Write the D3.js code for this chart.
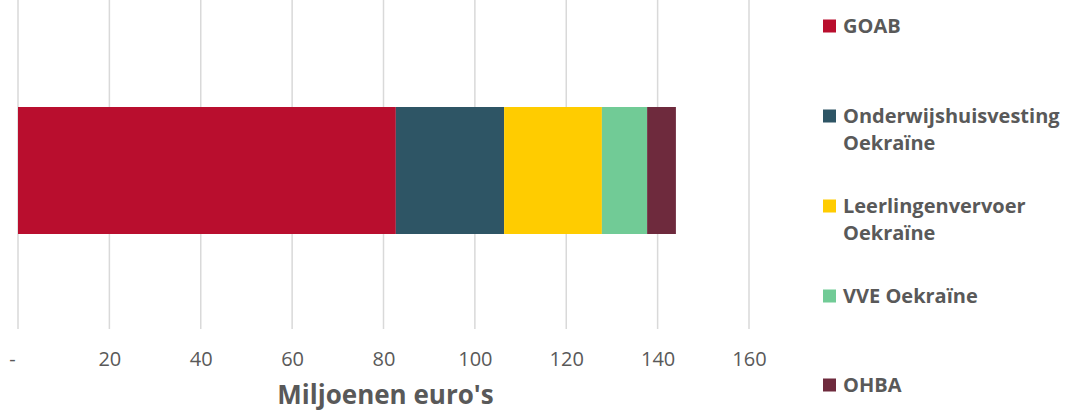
<!DOCTYPE html>
<html>
<head>
<meta charset="utf-8">
<script src="https://cdn.jsdelivr.net/npm/d3@7"></script>
<style>
  body { margin: 0; background: #fff; }
  svg { display: block; font-family: "Open Sans", sans-serif; }
</style>
</head>
<body>
<svg id="chart" width="1069" height="412"></svg>
<script>
//Data
const categories = ["Totaal"];
const seriesNames = ["GOAB", "Onderwijshuisvesting Oekraïne", "Leerlingenvervoer Oekraïne", "VVE Oekraïne", "OHBA"];
const seriesValues = [82.7, 23.7, 21.4, 9.9, 6.3];
const seriesColors = ["#B90E2E", "#2E5565", "#FFCC00", "#71CB96", "#6E2A3D"];
const legendLines = [["GOAB"], ["Onderwijshuisvesting", "Oekraïne"], ["Leerlingenvervoer", "Oekraïne"], ["VVE Oekraïne"], ["OHBA"]];
const tickValues = [0, 20, 40, 60, 80, 100, 120, 140, 160];
const axisTitle = "Miljoenen euro's";

const svg = d3.select("#chart");

//Scales
const xScale = d3.scaleLinear().domain([0, 160]).range([18, 749]);
const yScale = d3.scaleBand().domain(categories).range([107, 234]).padding(0);

//Gridlines
svg.append("g")
  .selectAll("line")
  .data(tickValues)
  .enter()
  .append("line")
  .attr("x1", (d) => xScale(d))
  .attr("x2", (d) => xScale(d))
  .attr("y1", 0)
  .attr("y2", 329)
  .attr("stroke", "#d9d9d9")
  .attr("stroke-width", 1.5);

//Stacked bar
const stacked = [];
let acc = 0;
seriesValues.forEach((v, i) => {
  stacked.push({ name: seriesNames[i], start: acc, end: acc + v, color: seriesColors[i] });
  acc += v;
});

svg.append("g")
  .selectAll("rect")
  .data(stacked)
  .enter()
  .append("rect")
  .attr("x", (d) => xScale(d.start))
  .attr("y", yScale("Totaal"))
  .attr("width", (d) => xScale(d.end) - xScale(d.start))
  .attr("height", yScale.bandwidth())
  .attr("fill", (d) => d.color);

//Axis
const xAxis = d3.axisBottom(xScale)
  .tickValues(tickValues)
  .tickSize(0)
  .tickPadding(0)
  .tickFormat((d) => (d === 0 ? "-" : d));
const axisG = svg.append("g")
  .attr("transform", "translate(0, 352)")
  .call(xAxis);
axisG.select(".domain").remove();
axisG.selectAll("text")
  .attr("dy", "0.71em")
  .attr("fill", "#595959")
  .style("font-size", "20px")
  .style("font-family", "'Open Sans', sans-serif")
  .style("font-weight", 400);
axisG.selectAll(".tick")
  .filter((d) => d === 0)
  .select("text")
  .attr("x", -6);

svg.append("text")
  .attr("x", xScale(80) + 2)
  .attr("y", 404)
  .attr("text-anchor", "middle")
  .attr("fill", "#595959")
  .style("font-size", "26px")
  .style("font-weight", 700)
  .text(axisTitle);

//Legend
const legendY = [26, 116, 206, 296, 385];
const legend = svg.append("g")
  .selectAll("g")
  .data(seriesNames)
  .enter()
  .append("g")
  .attr("transform", (d, i) => `translate(823, ${legendY[i]})`);

legend.append("rect")
  .attr("x", 0)
  .attr("y", -6.5)
  .attr("width", 13)
  .attr("height", 13)
  .attr("fill", (d, i) => seriesColors[i]);

legend.each(function (d, i) {
  const g = d3.select(this);
  legendLines[i].forEach((line, j) => {
    g.append("text")
      .attr("x", 20)
      .attr("y", j * 27)
      .attr("dy", "0.35em")
      .attr("fill", "#595959")
      .style("font-size", "20px")
      .style("font-weight", 700)
      .text(line);
  });
});
</script>
</body>
</html>
